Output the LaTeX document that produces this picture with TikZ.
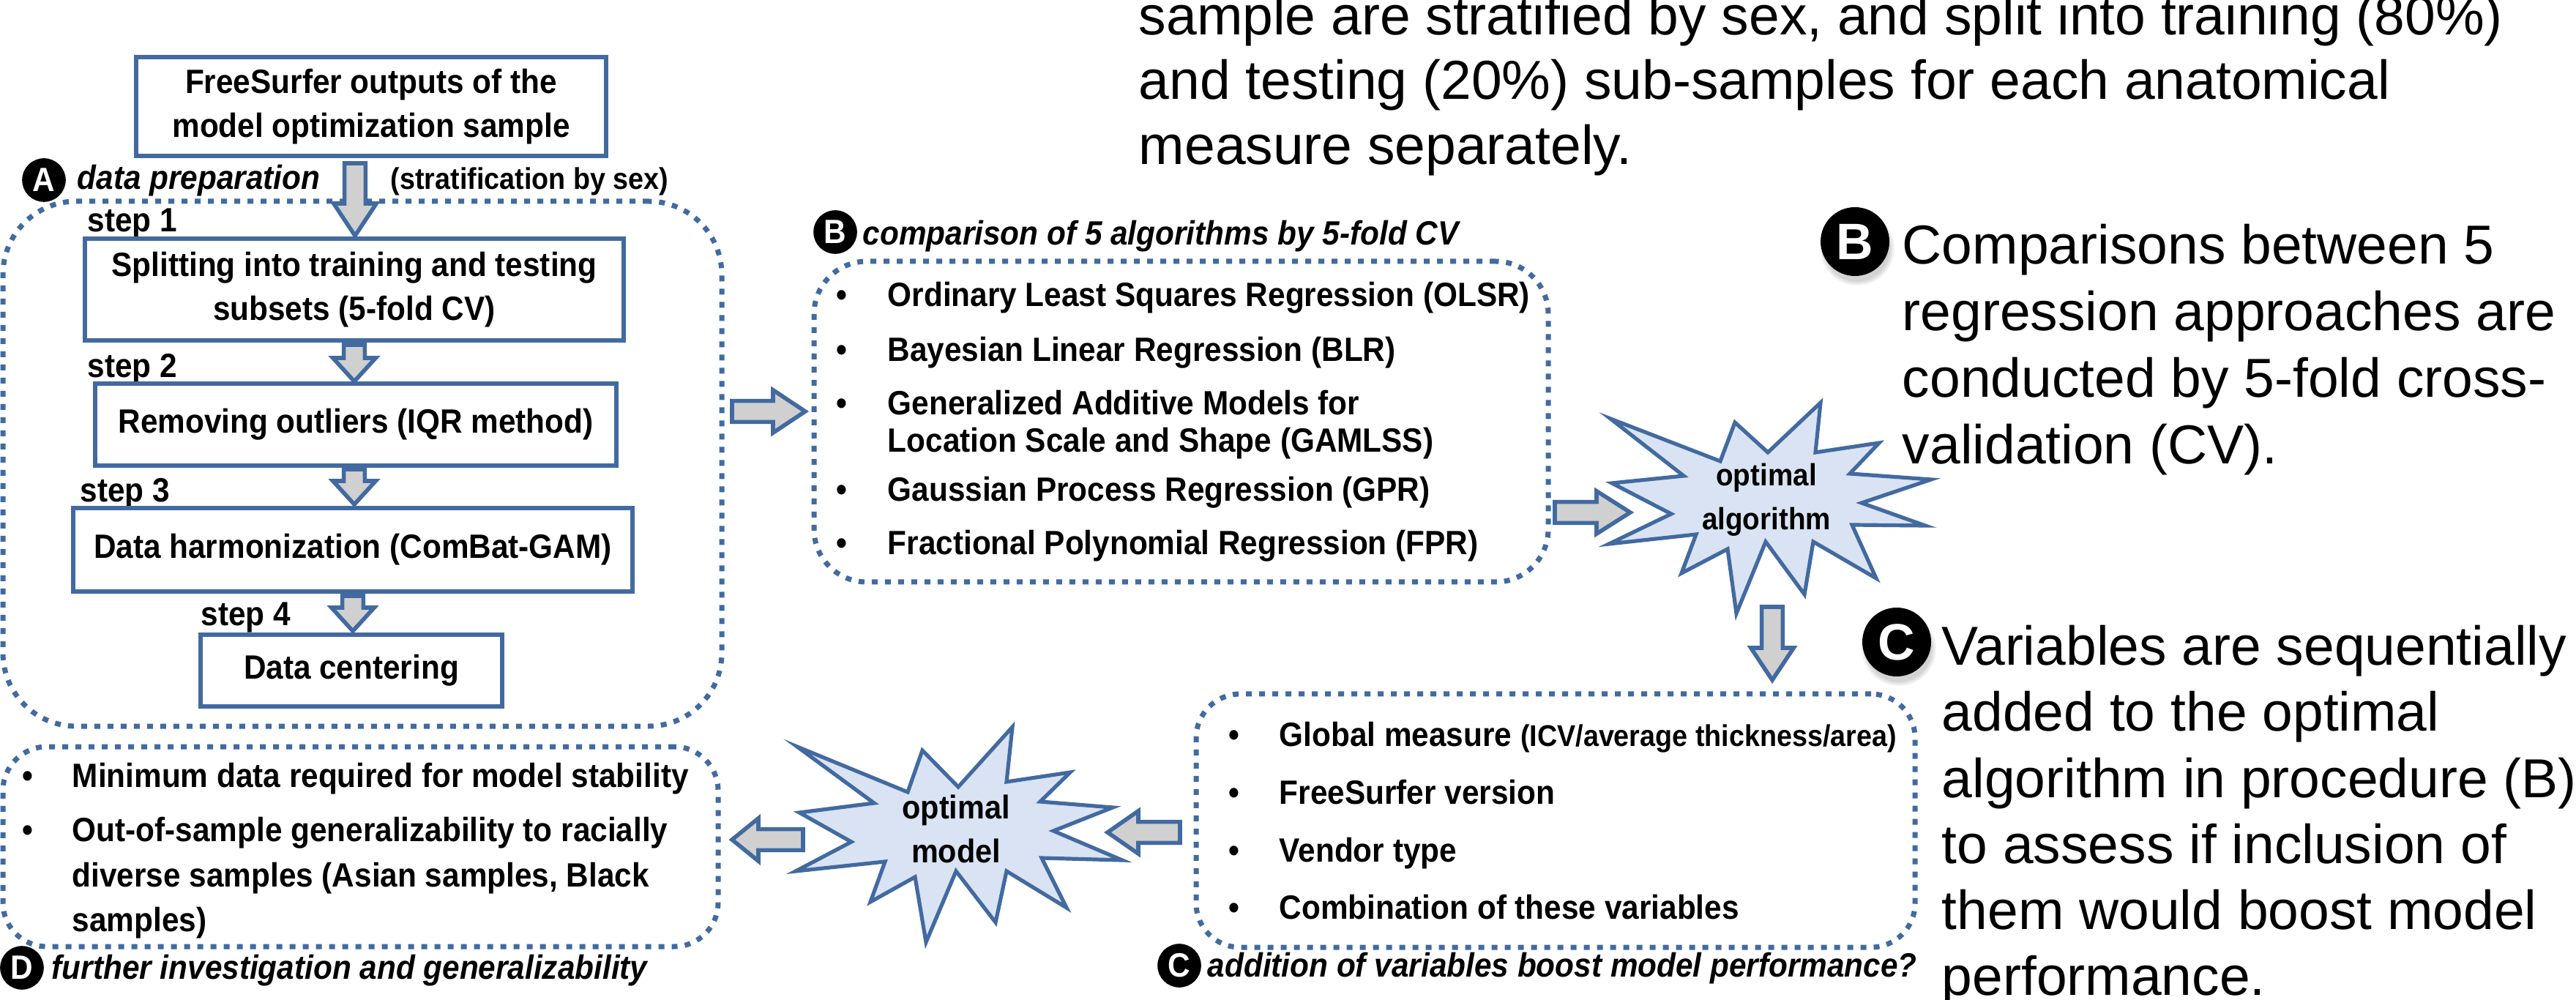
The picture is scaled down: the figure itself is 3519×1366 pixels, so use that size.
\documentclass[tikz,border=0pt]{standalone}
\usepackage{fontspec}
\setmainfont{Liberation Sans}
\newfontfamily\narrowsans[FakeStretch=0.92]{Liberation Sans}
\usetikzlibrary{calc,fit,shadows}

\definecolor{pblue}{RGB}{66,106,160}
\definecolor{agray}{RGB}{208,208,208}
\definecolor{sfill}{RGB}{218,227,243}

\tikzset{
 bt/.style={font=\narrowsans\bfseries\fontsize{11.5}{15}\selectfont},
 bit/.style={font=\narrowsans\bfseries\itshape\fontsize{11.5}{15}\selectfont},
 sbt/.style={font=\narrowsans\bfseries\fontsize{10.25}{13}\selectfont},
 bigt/.style={font=\fontsize{18.75}{22.5}\selectfont},
 stepbox/.style={draw=pblue, line width=1.5pt, fill=white, inner sep=0pt, align=center, bt},
 dotbox/.style={draw=pblue, line width=1.75pt, dash pattern=on 2pt off 2.5pt, inner sep=0pt},
 badge/.style={circle, draw=black, fill=black, text=white, inner sep=0pt, minimum size=14.5pt, font=\narrowsans\bfseries\fontsize{11.5}{12}\selectfont},
 bigbadge/.style={circle, fill=black, text=white, inner sep=0pt, minimum size=23.5pt, font=\bfseries\fontsize{17.5}{18}\selectfont, circular drop shadow={shadow xshift=0.6pt, shadow yshift=-2pt, opacity=0.35}},
 barrowst/.style={draw=pblue, fill=agray, line width=1.4pt, line join=miter},
 starst/.style={draw=pblue, fill=sfill, line width=1.3pt, line join=miter},
 txt/.style={anchor=base west, inner sep=0pt},
 bul/.style={anchor=base, inner sep=0pt, bt},
}

% block arrow from named coordinate #2 (tail) to #3 (tip); #1 = head length
\newcommand{\blockarrow}[3][11pt]{%
  \coordinate (bT) at (#2); \coordinate (bH) at (#3);
  \coordinate (bB) at ($(bH)!#1!(bT)$);
  \draw[barrowst] ($(bT)!3.6pt!90:(bH)$) -- ($(bB)!3.6pt!-90:(bT)$) -- ($(bB)!7.3pt!-90:(bT)$) -- (bH)
     -- ($(bB)!7.3pt!90:(bT)$) -- ($(bB)!3.6pt!90:(bT)$) -- ($(bT)!3.6pt!-90:(bH)$) -- cycle;}

\begin{document}
\begin{tikzpicture}[x=0.25pt,y=-0.25pt]
\useasboundingbox (0,0) rectangle (3519,1366);

% ---------- dotted panels
\node[dotbox, rounded corners=25pt, fit={(4,275) (986,992)}] (panelA) {};
\node[dotbox, rounded corners=18pt, fit={(1112,357) (2115,795)}] (panelB) {};
\node[dotbox, rounded corners=15pt, fit={(1634,948) (2616,1294)}] (panelC) {};
\node[dotbox, rounded corners=15pt, fit={(4,1020) (981,1293)}] (panelD) {};

% ---------- panel A
\node[stepbox, minimum width=160.5pt, minimum height=33.75pt] (src) at (507,145.5) {FreeSurfer outputs of the\\model optimization sample};
\node[badge] (bA) at (60,246) {A};
\node[txt, bit] (hA) at (105,259) {data preparation};
\node[txt, sbt] (strat) at (533,259) {(stratification by sex)};

\node[txt, bt] (s1) at (119,317) {step 1};
\node[stepbox, minimum width=184pt, minimum height=34.75pt] (step1) at (484,395.5) {Splitting into training and testing\\subsets (5-fold CV)};
\node[txt, bt] (s2) at (119,516) {step 2};
\node[stepbox, minimum width=178pt, minimum height=28pt] (step2) at (486,580) {Removing outliers (IQR method)};
\node[txt, bt] (s3) at (109,686) {step 3};
\node[stepbox, minimum width=191pt, minimum height=28.5pt] (step3) at (482,751) {Data harmonization (ComBat-GAM)};
\node[txt, bt] (s4) at (274,855) {step 4};
\node[stepbox, minimum width=103pt, minimum height=24.5pt] (step4) at (480,916) {Data centering};

% ---------- panel B
\node[badge] (bB) at (1141,317) {B};
\node[txt, bit] (hB) at (1178,335) {comparison of 5 algorithms by 5-fold CV};
\node[bul] (bu1) at (1150,419) {\textbullet};
\node[txt, bt] (i1) at (1212,419) {Ordinary Least Squares Regression (OLSR)};
\node[bul] (bu2) at (1150,494) {\textbullet};
\node[txt, bt] (i2) at (1212,494) {Bayesian Linear Regression (BLR)};
\node[bul] (bu3) at (1150,567) {\textbullet};
\node[txt, bt] (i3) at (1212,567) {Generalized Additive Models for};
\node[txt, bt] (i3b) at (1212,618) {Location Scale and Shape (GAMLSS)};
\node[bul] (bu4) at (1150,685) {\textbullet};
\node[txt, bt] (i4) at (1212,685) {Gaussian Process Regression (GPR)};
\node[bul] (bu5) at (1150,758) {\textbullet};
\node[txt, bt] (i5) at (1212,758) {Fractional Polynomial Regression (FPR)};

% ---------- star: optimal algorithm
\draw[starst] (2200,572) -- (2350,630) -- (2370,577) -- (2415,618) -- (2487,550) -- (2480,618) -- (2567,605) -- (2527,647) -- (2638,655) -- (2543,687) -- (2630,718) -- (2530,717) -- (2563,790) -- (2477,740) -- (2465,812) -- (2412,740) -- (2372,838) -- (2360,750) -- (2297,783) -- (2317,730) -- (2198,743) -- (2283,702) -- (2202,660) -- (2300,650) -- cycle;
\node[align=center, inner sep=0pt, font=\narrowsans\bfseries\fontsize{10.5}{15}\selectfont] (optalg) at (2413,683) {optimal\\algorithm};

% ---------- panel C
\node[bul] (bu6) at (1686,1019) {\textbullet};
\node[txt, bt] (c1) at (1747,1019) {Global measure {\fontsize{10.25}{13}\selectfont(ICV/average thickness/area)}};
\node[bul] (bu7) at (1686,1098) {\textbullet};
\node[txt, bt] (c2) at (1747,1098) {FreeSurfer version};
\node[bul] (bu8) at (1686,1177) {\textbullet};
\node[txt, bt] (c3) at (1747,1177) {Vendor type};
\node[bul] (bu9) at (1686,1255) {\textbullet};
\node[txt, bt] (c4) at (1747,1255) {Combination of these variables};
\node[badge] (bC) at (1611,1319) {C};
\node[txt, bit] (hC) at (1649,1334) {addition of variables boost model performance?};

% ---------- star: optimal model
\draw[starst] (1089,1020) -- (1240,1082) -- (1260,1025) -- (1309,1075) -- (1383,993) -- (1375,1068) -- (1462,1055) -- (1421,1095) -- (1520,1103) -- (1439,1135) -- (1533,1175) -- (1423,1172) -- (1457,1240) -- (1375,1190) -- (1360,1260) -- (1306,1190) -- (1265,1287) -- (1250,1198) -- (1189,1232) -- (1209,1177) -- (1087,1190) -- (1163,1150) -- (1092,1110) -- (1194,1097) -- cycle;
\node[align=center, inner sep=0pt, font=\narrowsans\bfseries\fontsize{11.25}{15}\selectfont] (optmod) at (1306,1132) {optimal\\model};

% ---------- panel D
\node[bul] (bu10) at (38,1076) {\textbullet};
\node[txt, bt] (d1) at (98,1076) {Minimum data required for model stability};
\node[bul] (bu11) at (38,1149) {\textbullet};
\node[txt, bt] (d2) at (98,1149) {Out-of-sample generalizability to racially};
\node[txt, bt] (d2b) at (98,1211) {diverse samples (Asian samples, Black};
\node[txt, bt] (d2c) at (98,1272) {samples)};
\node[badge] (bD) at (30,1322) {D};
\node[txt, bit] (hD) at (70,1337) {further investigation and generalizability};

% ---------- block arrows
\coordinate (a0t) at (485,223); \coordinate (a0h) at (485,322);
\blockarrow[11pt]{a0t}{a0h}
\coordinate (a1t) at (484,471); \coordinate (a1h) at (484,521);
\blockarrow[8pt]{a1t}{a1h}
\coordinate (a2t) at (484,641); \coordinate (a2h) at (484,689);
\blockarrow[8pt]{a2t}{a2h}
\coordinate (a3t) at (482,814); \coordinate (a3h) at (482,862);
\blockarrow[8pt]{a3t}{a3h}
\coordinate (abt) at (1000,562); \coordinate (abh) at (1100,562);
\blockarrow[11pt]{abt}{abh}
\coordinate (bst) at (2124,700); \coordinate (bsh) at (2227,700);
\blockarrow[11.5pt]{bst}{bsh}
\coordinate (sct) at (2421,829); \coordinate (sch) at (2421,929);
\blockarrow[11pt]{sct}{sch}
\coordinate (cmt) at (1612,1137); \coordinate (cmh) at (1513,1137);
\blockarrow[10.5pt]{cmt}{cmh}
\coordinate (mdt) at (1097,1147); \coordinate (mdh) at (1000,1147);
\blockarrow[9pt]{mdt}{mdh}

% ---------- explanatory text (right)
\node[txt, bigt] (top1) at (1555,48) {sample are stratified by sex, and split into training (80\%)};
\node[txt, bigt] (top2) at (1555,136) {and testing (20\%) sub-samples for each anatomical};
\node[txt, bigt] (top3) at (1555,225) {measure separately.};

\node[bigbadge] (bigB) at (2534,330) {B};
\node[txt, bigt] (eb1) at (2598,361) {Comparisons between 5};
\node[txt, bigt] (eb2) at (2598,452) {regression approaches are};
\node[txt, bigt] (eb3) at (2598,543) {conducted by 5-fold cross-};
\node[txt, bigt] (eb4) at (2598,634) {validation (CV).};

\node[bigbadge] (bigC) at (2591,877) {C};
\node[txt, bigt] (ec1) at (2652,909) {Variables are sequentially};
\node[txt, bigt] (ec2) at (2652,999) {added to the optimal};
\node[txt, bigt] (ec3) at (2652,1089) {algorithm in procedure (B)};
\node[txt, bigt] (ec4) at (2652,1179) {to assess if inclusion of};
\node[txt, bigt] (ec5) at (2652,1269) {them would boost model};
\node[txt, bigt] (ec6) at (2652,1359) {performance.};
\end{tikzpicture}
\end{document}
